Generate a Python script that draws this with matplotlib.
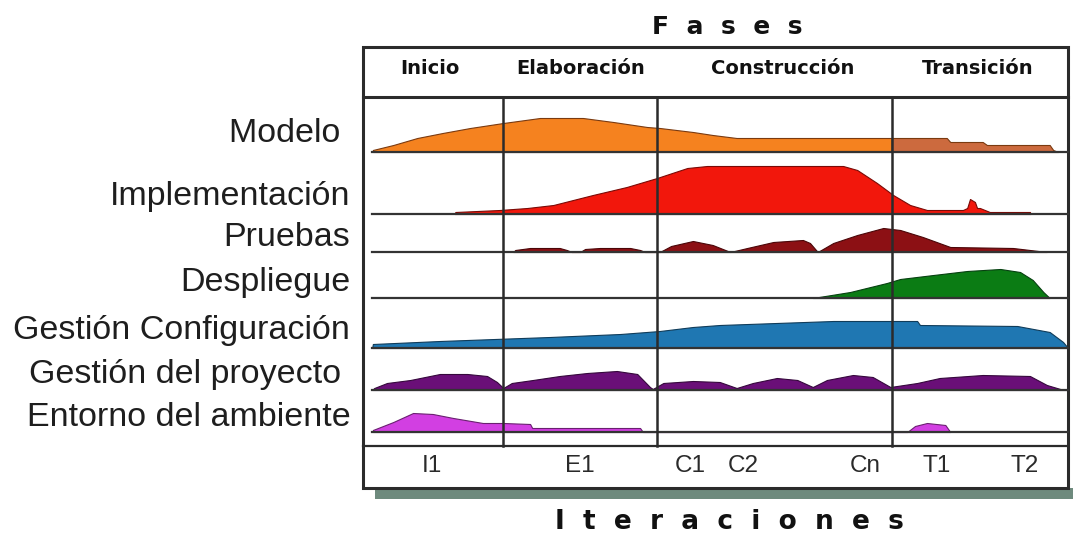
import numpy as np
import matplotlib.pyplot as plt
from matplotlib.patches import Rectangle

plt.rcParams['font.family'] = ['Liberation Sans', 'DejaVu Sans']

# Fases (cabecera) y sus limites, en % del tiempo del proyecto
fases = ['Inicio', 'Elaboración', 'Construcción', 'Transición']
fases_centro = [9.5, 30.8, 59.6, 87.2]
limites_fase = [19.9, 41.7, 75.0]

# Iteraciones (pie)
iteraciones = ['I1', 'E1', 'C1', 'C2', 'Cn', 'T1', 'T2']
iter_centro = [9.8, 30.8, 46.4, 53.9, 71.2, 81.4, 93.8]

# Disciplinas: tiempo (%) y esfuerzo (altura de la curva)
nombres = ['Modelo ', 'Implementación', 'Pruebas', 'Despliegue',
           'Gestión Configuración', 'Gestión del proyecto ', 'Entorno del ambiente']

modelo_t = [1.4, 4.3, 7.7, 11.3, 15.2, 19.9, 25.1, 31.2, 35.5, 40.3, 42.1, 46.8, 49.6,
            53.0, 82.8, 83.3, 87.9, 88.5, 97.4, 97.9, 98.6]
modelo_h = [2, 7, 14, 19, 24, 29, 34, 34, 30, 25, 24, 20, 17, 14, 14, 10, 10, 7, 7, 2, 0]

impl_t = [13.0, 13.1, 19.4, 23.3, 27.0, 32.6, 37.4, 41.7, 46.0, 48.8, 68.1, 70.1, 72.9,
          75.2, 77.6, 80.0, 85.1, 85.7, 86.1, 86.8, 87.1, 87.5, 88.9, 94.6, 94.7]
impl_h = [0, 2, 4, 6, 9, 19, 27, 36, 46, 48, 48, 44, 31, 19, 9, 4, 4, 6, 15, 12, 6, 6, 2, 2, 0]

pruebas_t = [21.3, 21.6, 23.7, 27.9, 28.9, 29.6, 30.8, 31.5, 33.6, 37.9, 39.3, 40.0,
             42.1, 43.7, 46.8, 49.6, 52.1, 54.5, 58.2, 62.4, 63.4, 64.5, 66.7, 70.1,
             73.8, 76.2, 79.4, 83.3, 92.2, 97.0]
pruebas_h = [0, 2, 4, 4, 2, 0, 0, 3, 4, 4, 2, 0,
             0, 6, 11, 7, 0, 4, 10, 12, 9, 0, 9, 17,
             24, 22, 15, 5, 4, 0]

despl_t = [63.8, 69.1, 74.3, 76.2, 80.9, 85.7, 90.4, 93.2, 95.0, 96.5, 97.4]
despl_h = [0, 6, 15, 19, 23, 27, 29, 26, 18, 6, 0]

gconf_t = [1.3, 1.4, 10.9, 26.5, 36.5, 42.1, 46.8, 50.6, 66.7, 78.6, 79.0, 92.8, 97.4, 99.3, 100]
gconf_h = [0, 4, 7, 11, 14, 17, 21, 23, 27, 27, 23, 22, 16, 6, 0]

gproy_t = [1.3, 1.6, 3.4, 6.7, 10.9, 14.8, 17.6, 19.0, 19.9, 21.1, 24.1, 27.9, 31.8,
           36.0, 38.9, 40.7, 41.1, 42.6, 46.8, 50.6, 53.0, 55.3, 58.7, 61.6, 63.8,
           65.8, 69.5, 72.3, 74.8, 78.6, 81.8, 87.9, 94.6, 97.0, 98.9, 100]
gproy_h = [0, 2, 7, 10, 16, 16, 14, 8, 2, 7, 10, 14, 17,
           19, 16, 3, 1, 7, 9, 8, 2, 7, 12, 10, 3,
           10, 15, 13, 3, 7, 12, 15, 14, 5, 1, 0]

entorno_t = [1.4, 4.3, 7.1, 9.9, 12.8, 17.0, 19.9, 23.7, 24.0, 39.3, 39.7,
             77.2, 78.3, 80.0, 82.6, 83.3]
entorno_h = [2, 10, 19, 18, 14, 9, 9, 8, 4, 4, 0,
             0, 6, 9, 7, 0]

series_t = [modelo_t, impl_t, pruebas_t, despl_t, gconf_t, gproy_t, entorno_t]
series_h = [modelo_h, impl_h, pruebas_h, despl_h, gconf_h, gproy_h, entorno_h]
colores = ['#f5821f', '#f2170c', '#8c1014', '#0b7c14', '#1f77b2', '#6a0f78', '#d23fe2']
bordes = ['#7a3a10', '#7a0a06', '#4a0608', '#064010', '#103c5a', '#35083c', '#6a2070']
color_modelo_final = '#cc6a3e'

# posiciones (px hacia arriba desde el borde inferior)
base_fila = [384, 322, 284, 238, 188, 146, 104]
y_etiqueta = [403, 339, 299, 253, 205, 161, 119]

W, H = 1073, 536
PX = 7.05  # px por % de tiempo
fig = plt.figure(figsize=(W / 100, H / 100), dpi=100)
ax = fig.add_axes([0, 0, 1, 1])
ax.set_xlim(-363 / PX, (W - 363) / PX)
ax.set_ylim(0, H)
ax.axis('off')

linea = '#2b2b2b'
# sombra y caja
ax.add_patch(Rectangle((12 / PX, 37), 100, 11, color='#6e8a7d', lw=0, zorder=0))
ax.add_patch(Rectangle((0, 48), 100, 441, facecolor='white', edgecolor=linea, lw=2.2, zorder=1))
ax.plot([0, 100], [439, 439], color=linea, lw=2.2, zorder=3)
ax.plot([0, 100], [90, 90], color=linea, lw=1.6, zorder=3)
for lf in limites_fase:
    ax.plot([lf, lf], [90, 439], color=linea, lw=1.8, zorder=4)

# curvas
for i in range(len(nombres)):
    t = np.array(series_t[i], dtype=float)
    h = np.array(series_h[i], dtype=float)
    b = base_fila[i]
    if i == 0:
        corte = limites_fase[2]
        hc = np.interp(corte, t, h)
        izq = t < corte
        ti = np.append(t[izq], corte)
        hi = np.append(h[izq], hc)
        td = np.insert(t[~izq], 0, corte)
        hd = np.insert(h[~izq], 0, hc)
        ax.fill_between(ti, b, b + hi, facecolor=colores[i], edgecolor=bordes[i], lw=0.8, zorder=2)
        ax.fill_between(td, b, b + hd, facecolor=color_modelo_final, edgecolor=bordes[i], lw=0.8, zorder=2)
    else:
        ax.fill_between(t, b, b + h, facecolor=colores[i], edgecolor=bordes[i], lw=0.8, zorder=2)
    ax.plot([1.3, 100], [b, b], color='#333333', lw=1.6, zorder=3)
    ax.text(-1.8, y_etiqueta[i], nombres[i], ha='right', va='center',
            fontsize=24.5, color='#1e1e1e')

# cabecera de fases
for nombre, xc in zip(fases, fases_centro):
    ax.text(xc, 467, nombre, ha='center', va='center', fontsize=14,
            fontweight='heavy', family='DejaVu Sans', color='#111111')
for nombre, xc in zip(iteraciones, iter_centro):
    ax.text(xc, 70, nombre, ha='center', va='center', fontsize=17.5,
            color='#2a2a2a')

ax.text(51.6, 509, '  '.join('Fases'), ha='center', va='center', fontsize=18,
        fontweight='heavy', family='DejaVu Sans', color='#111111')
ax.text(52.0, 14, '  '.join('Iteraciones'), ha='center', va='center', fontsize=19,
        fontweight='heavy', family='DejaVu Sans', color='#111111')

fig.savefig('out.png', dpi=100)
